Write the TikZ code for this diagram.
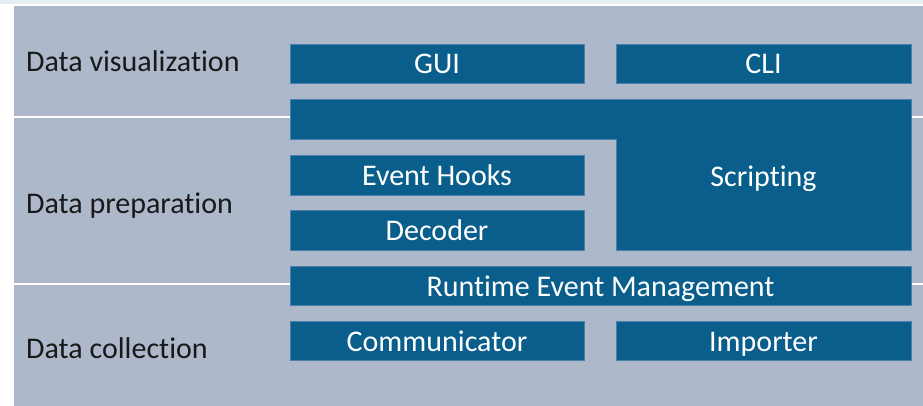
\documentclass[tikz,border=0pt]{standalone}
\usepackage{fontspec}
\setmainfont{Carlito}[Ligatures=NoCommon]
\definecolor{panel}{HTML}{ADB8CA}
\definecolor{boxblue}{HTML}{0A5E8C}
\definecolor{boxedge}{HTML}{4A80AA}
\definecolor{topstrip}{HTML}{E6EDF3}
\tikzset{
  layer/.style={font=\fontsize{30}{34}\selectfont, text=black!90, anchor=base west, inner sep=0pt},
  blk/.style={fill=boxblue, draw=boxedge, line width=0.6pt, text=white, font=\fontsize{30}{34}\selectfont, inner sep=0pt, outer sep=0pt, anchor=north west, text height=30pt, text depth=9.5pt},
  divider/.style={draw=white, line width=2pt}
}
\begin{document}
\begin{tikzpicture}[x=1pt,y=-1pt]
\useasboundingbox (0,0) rectangle (923,406);
\fill[white] (0,0) rectangle (923,406);
\fill[topstrip] (0,0) rectangle (923,4);
\fill[panel] (14,6) rectangle (923,406);
\coordinate (dl1) at (14,117.5);
\coordinate (dr1) at (923,117.5);
\coordinate (dl2) at (14,283.5);
\coordinate (dr2) at (923,283.5);
\draw[divider] (dl1) -- (dr1);
\draw[divider] (dl2) -- (dr2);
% layer labels
\node[layer] (lvis) at (26,72) {Data visualization};
\node[layer] (lprep) at (26,213) {Data preparation};
\node[layer] (lcol) at (26,358) {Data collection};
% boxes
\node[blk, minimum width=294pt, minimum height=39pt] (gui) at (290,44) {GUI};
\node[blk, minimum width=295pt, minimum height=39pt] (cli) at (616,44) {CLI};
\fill[boxblue, draw=boxedge, line width=0.6pt] (290,99.5) -- (911,99.5) -- (911,250) -- (616,250) -- (616,139) -- (290,139) -- cycle;
\node[text=white, font=\fontsize{30}{34}\selectfont, inner sep=0pt, anchor=base] (scr) at (763.5,186) {Scripting};
\node[blk, minimum width=294pt, minimum height=40pt] (hooks) at (290,155) {Event Hooks};
\node[blk, minimum width=294pt, minimum height=40pt] (dec) at (290,210.5) {Decoder};
\node[blk, minimum width=621pt, minimum height=39.5pt] (rem) at (290,266) {Runtime Event Management};
\node[blk, minimum width=294pt, minimum height=39.5pt] (comm) at (290,321) {Communicator};
\node[blk, minimum width=295pt, minimum height=39.5pt] (imp) at (616,321) {Importer};
\end{tikzpicture}
\end{document}
